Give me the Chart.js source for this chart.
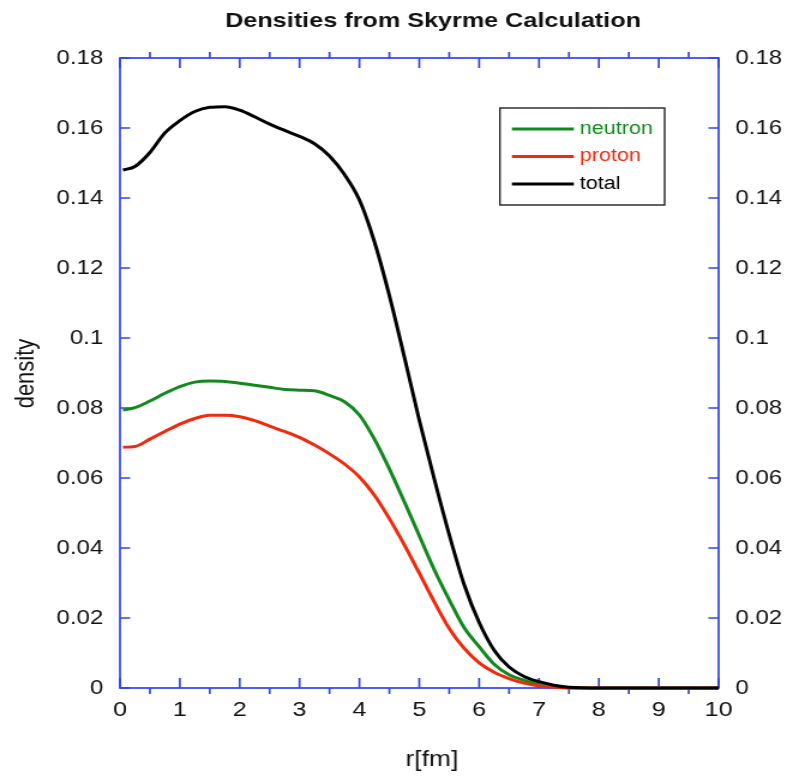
<!DOCTYPE html>
<html>
<head>
<meta charset="utf-8">
<title>Densities from Skyrme Calculation</title>
<script src="https://cdn.jsdelivr.net/npm/chart.js@4.4.1/dist/chart.umd.min.js"></script>
<style>
  html, body { margin: 0; padding: 0; background: #fff; }
</style>
</head>
<body>
<!-- the original lettering is wider than it is tall, so the canvas is drawn
     narrower and stretched out to 787px (inline style so Chart.js keeps it) -->
<canvas id="densityChart" width="656" height="777" style="display:block;width:787px;height:777px"></canvas>
<script>
// radius grid r [fm]
const radius = [0.05, 0.25, 0.5, 0.75, 1.0, 1.25, 1.5, 1.75, 2.0, 2.25, 2.5, 2.75,
                3.0, 3.25, 3.5, 3.75, 4.0, 4.25, 4.5, 4.75, 5.0, 5.25, 5.5, 5.75,
                6.0, 6.25, 6.5, 6.75, 7.0, 7.25, 7.5, 8, 9, 10];

// densities
const neutron = [0.0794, 0.0801, 0.0820, 0.0842, 0.0861, 0.0874, 0.0877, 0.0876, 0.0871, 0.0865, 0.0859, 0.0853,
                 0.0851, 0.0849, 0.0836, 0.0818, 0.0780, 0.0711, 0.0626, 0.0532, 0.0435, 0.0338, 0.0252, 0.0172,
                 0.0118, 0.0068, 0.0038, 0.0022, 0.0010, 0.0004, 0.0001, 0, 0, 0];
const proton = [0.0688, 0.0690, 0.0711, 0.0733, 0.0754, 0.0770, 0.0779, 0.0779, 0.0775, 0.0764, 0.0748, 0.0733,
                0.0716, 0.0694, 0.0669, 0.0640, 0.0603, 0.0551, 0.0484, 0.0409, 0.0328, 0.0246, 0.0170, 0.0113,
                0.0072, 0.0045, 0.0027, 0.0014, 0.0006, 0.0002, 0, 0, 0, 0];
const total = [0.1480, 0.1490, 0.1530, 0.1586, 0.1621, 0.1647, 0.1659, 0.1661, 0.1651, 0.1632, 0.1611, 0.1593,
               0.1576, 0.1555, 0.1520, 0.1467, 0.1394, 0.1275, 0.1121, 0.0946, 0.0765, 0.0597, 0.0438, 0.0295,
               0.0187, 0.0108, 0.0060, 0.0033, 0.0018, 0.0008, 0.0002, 0, 0, 0];

// tick values
const xMajorTicks = [0, 1, 2, 3, 4, 5, 6, 7, 8, 9, 10];
const xMinorTicks = [0.5, 1.5, 2.5, 3.5, 4.5, 5.5, 6.5, 7.5, 8.5, 9.5];
const yTicks = [0, 0.02, 0.04, 0.06, 0.08, 0.1, 0.12, 0.14, 0.16, 0.18];

const FONT = "'Liberation Sans', Arial, Helvetica, sans-serif";
const AXIS_BLUE = '#2f45f2';
const GREEN = '#12891e';
const RED = '#f2290c';
const BLACK = '#000000';

function toPoints(values) {
    return radius.map((r, i) => ({ x: r, y: values[i] }));
}

function formatTick(value) {
    return String(Number(value.toFixed(2)));
}

/**
 * Blue frame with tick marks: whole-number ticks point inward,
 * half-unit ticks point outward (top and bottom), density ticks inward.
 */
const frameAndTicks = {
    id: 'frameAndTicks',
    beforeDatasetsDraw(chart) {
        const { ctx, chartArea: a, scales } = chart;
        ctx.save();
        ctx.strokeStyle = AXIS_BLUE;
        ctx.lineWidth = 1.7;
        ctx.strokeRect(a.left, a.top, a.right - a.left, a.bottom - a.top);
        ctx.beginPath();
        xMajorTicks.forEach(v => {
            const px = scales.x.getPixelForValue(v);
            ctx.moveTo(px, a.bottom); ctx.lineTo(px, a.bottom - 10);
            ctx.moveTo(px, a.top); ctx.lineTo(px, a.top + 10);
        });
        xMinorTicks.forEach(v => {
            const px = scales.x.getPixelForValue(v);
            ctx.moveTo(px, a.bottom); ctx.lineTo(px, a.bottom + 6);
            ctx.moveTo(px, a.top); ctx.lineTo(px, a.top - 6);
        });
        yTicks.forEach(v => {
            const py = scales.y.getPixelForValue(v);
            ctx.moveTo(a.left, py); ctx.lineTo(a.left + 8.5, py);
            ctx.moveTo(a.right, py); ctx.lineTo(a.right - 8.5, py);
        });
        ctx.stroke();
        ctx.restore();
    }
};

/**
 * Title, axis titles and the boxed legend inside the plot
 */
const textAndLegend = {
    id: 'textAndLegend',
    afterDraw(chart) {
        const { ctx } = chart;
        ctx.save();
        ctx.fillStyle = '#111';
        ctx.textAlign = 'center';
        ctx.textBaseline = 'alphabetic';

        ctx.font = 'bold 21px ' + FONT;
        ctx.fillText('Densities from Skyrme Calculation', 361, 27);

        ctx.font = '22px ' + FONT;
        ctx.fillText('r[fm]', 360, 766);

        ctx.save();
        ctx.translate(27.5, 373.5);
        ctx.rotate(-Math.PI / 2);
        ctx.fillText('density', 0, 0);
        ctx.restore();

        // legend box
        ctx.fillStyle = '#fff';
        ctx.fillRect(416.7, 108, 137.3, 97);
        ctx.strokeStyle = '#222';
        ctx.lineWidth = 1.4;
        ctx.strokeRect(416.7, 108, 137.3, 97);

        const rows = [129, 156.5, 184];
        ctx.font = '18px ' + FONT;
        ctx.textAlign = 'left';
        ctx.textBaseline = 'middle';
        chart.data.datasets.forEach((ds, i) => {
            ctx.strokeStyle = ds.borderColor;
            ctx.lineWidth = 3;
            ctx.beginPath();
            ctx.moveTo(426.7, rows[i]);
            ctx.lineTo(478.3, rows[i]);
            ctx.stroke();
            ctx.fillStyle = ds.borderColor;
            ctx.fillText(ds.label, 483.3, rows[i]);
        });
        ctx.restore();
    }
};

function initDensityChart() {
    const canvas = document.getElementById('densityChart');
    if (!canvas) {
        console.error('Density canvas not found');
        return;
    }

    const lineStyle = {
        borderWidth: 3,
        pointRadius: 0,
        fill: false,
        cubicInterpolationMode: 'monotone',
        clip: 4
    };

    new Chart(canvas, {
        type: 'line',
        data: {
            datasets: [
                Object.assign({ label: 'neutron', data: toPoints(neutron), borderColor: GREEN, order: 2 }, lineStyle),
                Object.assign({ label: 'proton', data: toPoints(proton), borderColor: RED, order: 1 }, lineStyle),
                Object.assign({ label: 'total', data: toPoints(total), borderColor: BLACK, order: 0 }, lineStyle)
            ]
        },
        options: {
            responsive: false,
            animation: false,
            layout: { padding: 0 },
            plugins: {
                legend: { display: false },
                title: { display: false },
                tooltip: { enabled: false }
            },
            scales: {
                x: {
                    type: 'linear',
                    position: 'bottom',
                    min: 0,
                    max: 10,
                    afterBuildTicks: s => { s.ticks = xMajorTicks.map(v => ({ value: v })); },
                    afterFit: s => { s.height = 89; },
                    grid: { display: false, drawTicks: false },
                    border: { display: false },
                    ticks: {
                        color: '#111',
                        font: { family: FONT, size: 21 },
                        padding: 10,
                        maxRotation: 0,
                        autoSkip: false,
                        callback: v => String(v)
                    }
                },
                x2: {
                    type: 'linear',
                    position: 'top',
                    min: 0,
                    max: 10,
                    afterFit: s => { s.height = 58; },
                    grid: { display: false, drawTicks: false },
                    border: { display: false },
                    ticks: { display: false }
                },
                y: {
                    type: 'linear',
                    position: 'left',
                    min: 0,
                    max: 0.18,
                    afterBuildTicks: s => { s.ticks = yTicks.map(v => ({ value: v })); },
                    afterFit: s => { s.width = 100; },
                    grid: { display: false, drawTicks: false },
                    border: { display: false },
                    ticks: {
                        color: '#111',
                        font: { family: FONT, size: 20 },
                        padding: 14,
                        callback: v => formatTick(v)
                    }
                },
                y2: {
                    type: 'linear',
                    position: 'right',
                    min: 0,
                    max: 0.18,
                    afterBuildTicks: s => { s.ticks = yTicks.map(v => ({ value: v })); },
                    afterFit: s => { s.width = 57; },
                    grid: { display: false, drawTicks: false },
                    border: { display: false },
                    ticks: {
                        color: '#111',
                        font: { family: FONT, size: 20 },
                        padding: 14,
                        callback: v => formatTick(v)
                    }
                }
            }
        },
        plugins: [frameAndTicks, textAndLegend]
    });
}

document.addEventListener('DOMContentLoaded', initDensityChart);
</script>
</body>
</html>
